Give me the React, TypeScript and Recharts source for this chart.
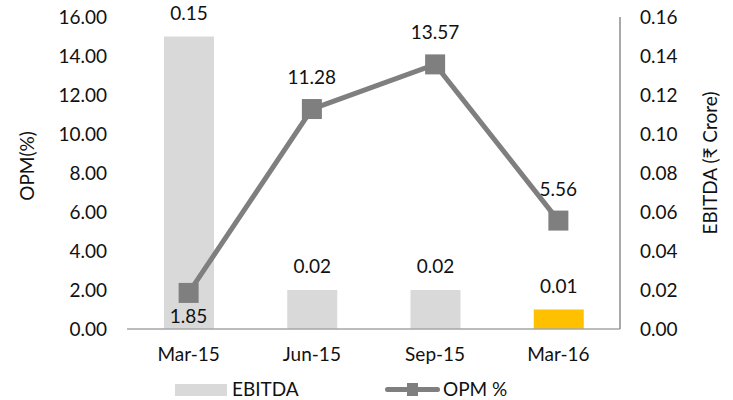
import {
  ComposedChart,
  Bar,
  Line,
  XAxis,
  YAxis,
  Legend,
  LabelList,
  Cell,
} from "recharts";

const categories = ["Mar-15", "Jun-15", "Sep-15", "Mar-16"];
const ebitdaValues = [0.15, 0.02, 0.02, 0.01];
const opmValues = [1.85, 11.28, 13.57, 5.56];
const opmTicks = [0, 2, 4, 6, 8, 10, 12, 14, 16];
const ebitdaTicks = [0, 0.02, 0.04, 0.06, 0.08, 0.1, 0.12, 0.14, 0.16];
const edgeTicks = [0, 1, 2, 3, 4];
const barColors = ["#d9d9d9", "#d9d9d9", "#d9d9d9", "#ffc000"];

const data = categories.map((name, i) => ({
  name,
  ebitda: ebitdaValues[i],
  opm: opmValues[i],
}));

const FONT = "Lato, 'DejaVu Sans', sans-serif";
const FS = 19;
const TEXT = "#111111";
const LINE = "#7f7f7f";
const AXIS = "#a6a6a6";

function SquareDot(props: any) {
  const { cx, cy, index } = props;
  return <rect key={`dot-${index}`} x={cx - 10} y={cy - 10} width={20} height={20} fill={LINE} />;
}

function OpmLabel(props: any) {
  const { x, y, value, index } = props;
  const below = index === 0;
  return (
    <text
      x={x}
      y={below ? y + 30 : y - 25}
      textAnchor="middle"
      fill={TEXT}
      fontSize={FS}
      fontFamily={FONT}
    >
      {Number(value).toFixed(2)}
    </text>
  );
}

// rotated axis title, placed relative to the axis box
function axisTitle(text: string, dx: number, dy: number) {
  return (props: any) => {
    const { viewBox } = props;
    const x = viewBox.x + dx;
    const y = viewBox.y + viewBox.height / 2 + dy;
    return (
      <text
        x={x}
        y={y}
        transform={`rotate(-90, ${x}, ${y})`}
        textAnchor="middle"
        dominantBaseline="central"
        fill={TEXT}
        fontSize={FS}
        fontFamily={FONT}
      >
        {text}
      </text>
    );
  };
}

function ChartLegend() {
  return (
    <div style={{ position: "relative", width: 733, height: 30, fontFamily: FONT, fontSize: FS, color: TEXT }}>
      <div style={{ position: "absolute", left: 175, top: 14, width: 52, height: 12, background: "#d9d9d9" }} />
      <div style={{ position: "absolute", left: 232, top: 6, lineHeight: "26px" }}>EBITDA</div>
      <div style={{ position: "absolute", left: 385, top: 17, width: 55, height: 5, background: LINE, borderRadius: 3 }} />
      <div style={{ position: "absolute", left: 407, top: 13, width: 11, height: 13, background: LINE }} />
      <div style={{ position: "absolute", left: 443, top: 6, lineHeight: "26px" }}>OPM %</div>
    </div>
  );
}

export default function App() {
  return (
    <div style={{ position: "absolute", left: 0, top: 0, width: 733, height: 400, background: "#fff" }}>
      <ComposedChart
        width={733}
        height={400}
        data={data}
        margin={{ top: 17, right: 0, bottom: 0, left: 0 }}
        barCategoryGap={0}
      >
        <XAxis
          xAxisId="a"
          type="number"
          domain={[0, 4]}
          ticks={edgeTicks}
          height={1}
          tick={false}
          tickSize={7}
          axisLine={{ stroke: AXIS, strokeWidth: 1.5 }}
          tickLine={{ stroke: AXIS, strokeWidth: 1.5 }}
        />
        <XAxis
          xAxisId="b"
          dataKey="name"
          height={40}
          axisLine={false}
          tickLine={false}
          tickSize={0}
          tickMargin={18}
          tick={{ fill: TEXT, fontSize: FS, fontFamily: FONT }}
        />
        <YAxis
          yAxisId="opm"
          orientation="left"
          width={127}
          domain={[0, 16]}
          ticks={opmTicks}
          axisLine={false}
          tickLine={false}
          tickSize={0}
          tickMargin={20}
          tickFormatter={(v: number) => v.toFixed(2)}
          tick={{ fill: TEXT, fontSize: FS, fontFamily: FONT }}
          label={{ content: axisTitle("OPM(%)", 26, -7) }}
        />
        <YAxis
          yAxisId="ebitda"
          orientation="right"
          width={113}
          domain={[0, 0.16]}
          ticks={ebitdaTicks}
          axisLine={{ stroke: "#8c8c8c", strokeWidth: 1.5 }}
          tickLine={false}
          tickSize={0}
          tickMargin={20}
          tickFormatter={(v: number) => v.toFixed(2)}
          tick={{ fill: TEXT, fontSize: FS, fontFamily: FONT, textAnchor: "start" }}
          label={{ content: axisTitle("EBITDA (₹ Crore)", 89, -10) }}
        />
        <Legend
          verticalAlign="bottom"
          height={30}
          content={() => <ChartLegend />}
          wrapperStyle={{ left: 0, top: 370, width: 733 }}
        />
        <Bar
          xAxisId="b"
          yAxisId="ebitda"
          dataKey="ebitda"
          barSize={50}
          isAnimationActive={false}
        >
          {data.map((d, i) => (
            <Cell key={d.name} fill={barColors[i]} />
          ))}
          <LabelList
            dataKey="ebitda"
            position="top"
            offset={17}
            formatter={(v: any) => Number(v).toFixed(2)}
            style={{ fill: TEXT, fontSize: FS, fontFamily: FONT }}
          />
        </Bar>
        <Line
          xAxisId="b"
          yAxisId="opm"
          dataKey="opm"
          stroke={LINE}
          strokeWidth={5}
          dot={SquareDot}
          activeDot={false}
          isAnimationActive={false}
        >
          <LabelList dataKey="opm" content={OpmLabel} />
        </Line>
      </ComposedChart>
    </div>
  );
}
